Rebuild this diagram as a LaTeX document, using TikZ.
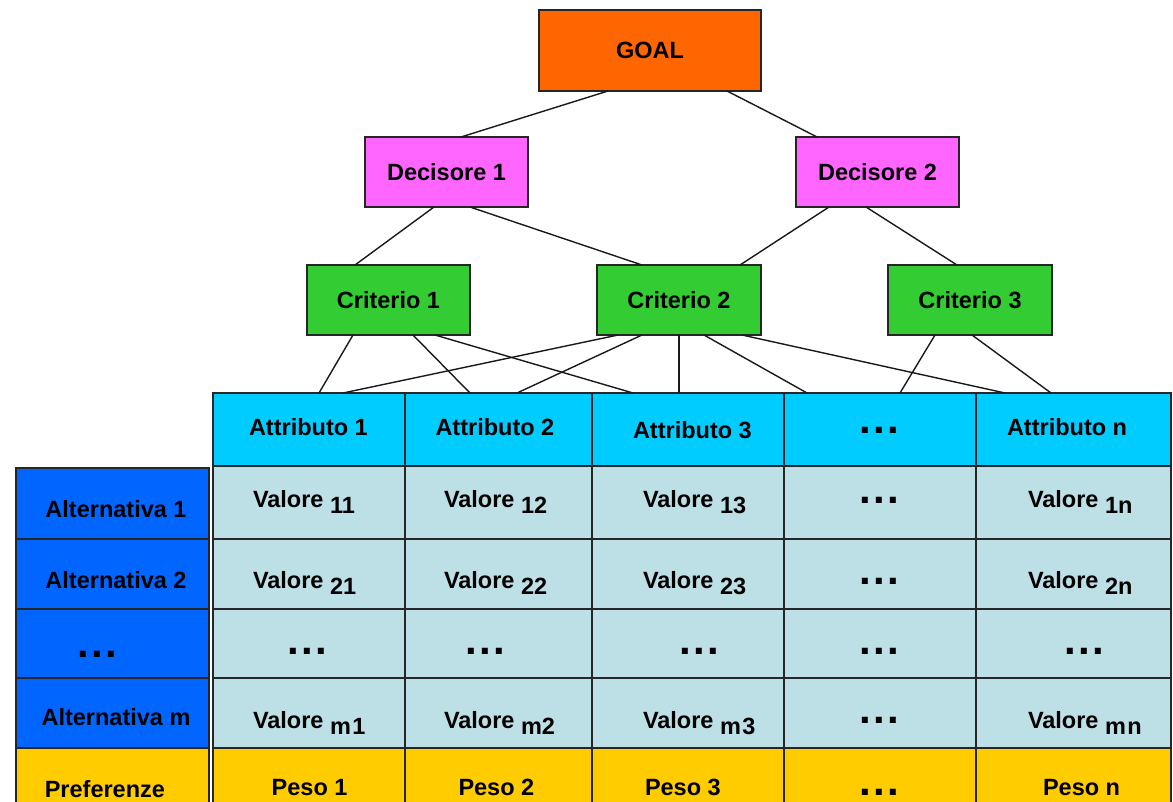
\documentclass[tikz,border=0pt]{standalone}
\usepackage{fontspec}
\setmainfont{Liberation Sans}

\definecolor{goalc}{HTML}{FF6600}
\definecolor{decc}{HTML}{FF66FF}
\definecolor{critc}{HTML}{33CC33}
\definecolor{attrc}{HTML}{00CCFF}
\definecolor{valc}{HTML}{BDE0E6}
\definecolor{altc}{HTML}{0066FF}
\definecolor{prefc}{HTML}{FFCC00}

% three square dots, spaced out
\newcommand\threedots{{\fontsize{42}{42}\selectfont.\kern2.3pt.\kern2.3pt.}}
% index set on the same size, lowered
\newcommand\valsub[1]{\raisebox{-6.7pt}{#1}}
% empty rectangular cell given by its corners
\newcommand\cellbox[6]{\node[box, fill=#6, minimum width=#4-#2, minimum height=#5-#3] (#1) at (#2,#3) {};}

\begin{document}
\begin{tikzpicture}[x=1pt,y=-1pt,
  every node/.style={font=\fontsize{23.5}{28}\selectfont\bfseries, inner sep=0pt, outer sep=0pt},
  box/.style={draw=black!85, line width=1.3pt, anchor=north west},
  link/.style={draw=black!90, line width=1.4pt},
  lbl/.style={anchor=base west},
  clbl/.style={anchor=base}]

\useasboundingbox (0,0) rectangle (1173,801);
\clip (0,0) rectangle (1173,801);

% hierarchy
\node[box, fill=goalc, minimum width=222, minimum height=81] (goal) at (539,10) {GOAL};
\node[box, fill=decc, minimum width=163, minimum height=70] (d1) at (365,137) {Decisore 1};
\node[box, fill=decc, minimum width=163, minimum height=70] (d2) at (796,137) {Decisore 2};
\node[box, fill=critc, minimum width=163, minimum height=70] (c1) at (307,265) {Criterio 1};
\node[box, fill=critc, minimum width=164, minimum height=70] (c2) at (597,265) {Criterio 2};
\node[box, fill=critc, minimum width=164, minimum height=70] (c3) at (888,265) {Criterio 3};

% table cells
\foreach \i/\xa/\xb in {1/213/405, 2/405/592, 3/592/784, 4/784/976, 5/976/1171} {
  \cellbox{a\i}{\xa}{393}{\xb}{466}{attrc}
  \cellbox{r1\i}{\xa}{466}{\xb}{539}{valc}
  \cellbox{r2\i}{\xa}{539}{\xb}{609}{valc}
  \cellbox{r3\i}{\xa}{609}{\xb}{678}{valc}
  \cellbox{r4\i}{\xa}{678}{\xb}{748}{valc}
  \cellbox{p\i}{\xa}{748}{\xb}{826}{prefc}
}
\cellbox{alt1}{16}{468}{209}{539}{altc}
\cellbox{alt2}{16}{539}{209}{609}{altc}
\cellbox{alt3}{16}{609}{209}{678}{altc}
\cellbox{alt4}{16}{678}{209}{748}{altc}
\cellbox{pref}{16}{748}{209}{826}{prefc}

% connectors
\draw[link] ([xshift=69pt]goal.south west) -- ([xshift=96pt]d1.north west);
\draw[link] ([xshift=188pt]goal.south west) -- ([xshift=21pt]d2.north west);
\draw[link] ([xshift=69pt]d1.south west) -- ([xshift=48pt]c1.north west);
\draw[link] ([xshift=105pt]d1.south west) -- ([xshift=45pt]c2.north west);
\draw[link] ([xshift=33pt]d2.south west) -- ([xshift=143pt]c2.north west);
\draw[link] ([xshift=70pt]d2.south west) -- ([xshift=69pt]c3.north west);
\draw[link] ([xshift=46pt]c1.south west) -- ([xshift=106pt]a1.north west);
\draw[link] ([xshift=106pt]c1.south west) -- ([xshift=65pt]a2.north west);
\draw[link] ([xshift=128pt]c1.south west) -- ([xshift=41pt]a3.north west);
\draw[link] ([xshift=21pt]c2.south west) -- ([xshift=130pt]a1.north west);
\draw[link] ([xshift=45pt]c2.south west) -- ([xshift=112pt]a2.north west);
\draw[link] ([xshift=82pt]c2.south west) -- ([xshift=87pt]a3.north west);
\draw[link] ([xshift=107pt]c2.south west) -- ([xshift=23pt]a4.north west);
\draw[link] ([xshift=145pt]c2.south west) -- ([xshift=29pt]a5.north west);
\draw[link] ([xshift=47pt]c3.south west) -- ([xshift=116pt]a4.north west);
\draw[link] ([xshift=84pt]c3.south west) -- ([xshift=75pt]a5.north west);

% header row
\node[lbl] at (249,435) {Attributo 1};
\node[lbl] at (435.5,435) {Attributo 2};
\node[lbl] at (633,438) {Attributo 3};
\node[clbl] at (879,433) {\threedots};
\node[lbl] at (1007,435) {Attributo n};

% alternatives
\node[clbl] at (116,517) {Alternativa 1};
\node[clbl] at (116,588) {Alternativa 2};
\node[clbl] at (97,657) {\threedots};
\node[clbl] at (116,725) {Alternativa m};
\node[lbl] at (44.8,797) {Preferenze};

% values
\node[lbl] at (253,507) {Valore \valsub{11}};
\node[lbl] at (444,507) {Valore \valsub{12}};
\node[lbl] at (643,507) {Valore \valsub{13}};
\node[clbl] at (879,503) {\threedots};
\node[lbl] at (1028,507) {Valore \valsub{1n}};

\node[lbl] at (253,588) {Valore \valsub{21}};
\node[lbl] at (444,588) {Valore \valsub{22}};
\node[lbl] at (643,588) {Valore \valsub{23}};
\node[clbl] at (879,584) {\threedots};
\node[lbl] at (1028,588) {Valore \valsub{2n}};

\node[clbl] at (307,654) {\threedots};
\node[clbl] at (485.5,654) {\threedots};
\node[clbl] at (699,654) {\threedots};
\node[clbl] at (879,654) {\threedots};
\node[clbl] at (1084,654) {\threedots};

\node[lbl] at (253,728) {Valore \valsub{m\kern1.5pt1}};
\node[lbl] at (444,728) {Valore \valsub{m2}};
\node[lbl] at (643,728) {Valore \valsub{m\kern1.5pt3}};
\node[clbl] at (879,723) {\threedots};
\node[lbl] at (1028,728) {Valore \valsub{m\kern1.5ptn}};

% weights
\node[lbl] at (271.7,795) {Peso 1};
\node[lbl] at (458.5,795) {Peso 2};
\node[lbl] at (645,795) {Peso 3};
\node[clbl] at (879,795) {\threedots};
\node[lbl] at (1043,795) {Peso n};
\end{tikzpicture}
\end{document}
